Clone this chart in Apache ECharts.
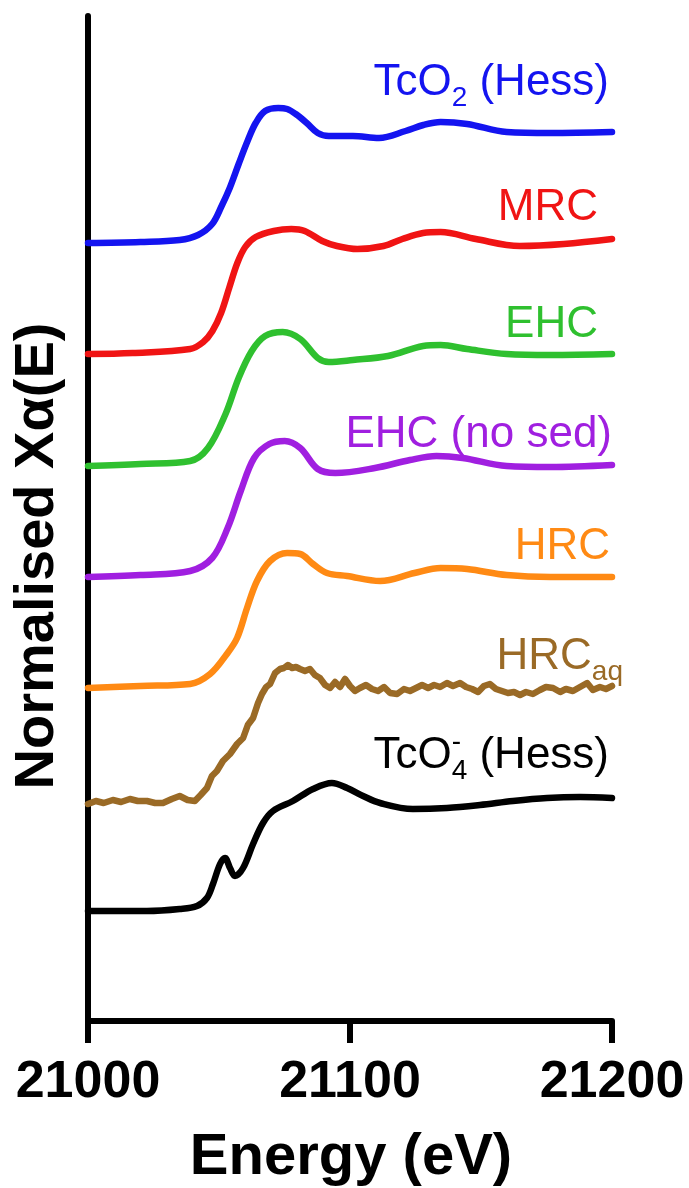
<!DOCTYPE html>
<html>
<head>
<meta charset="utf-8">
<script src="https://cdn.jsdelivr.net/npm/echarts@6/dist/echarts.min.js"></script>
<style>
html,body{margin:0;padding:0;background:#fff;}
#c{width:689px;height:1188px;}
</style>
</head>
<body>
<div id="c"></div>
<script>
// ---- data (energy in eV, normalised absorption with vertical offsets) ----
const xTicks = [21000, 21100, 21200];

const tco2Hess = [
[21000,77.8],[21020,77.9],[21035,78.1],[21042,78.6],[21047.4,79.7],[21051,81.5],[21054.1,83.3],
[21057.5,85.7],[21060.9,88.0],[21064,89.8],[21067.6,91.0],[21072.6,91.3],[21076,91.2],[21079.3,90.7],
[21083.5,89.8],[21087.7,88.8],[21091.9,88.5],[21101.1,88.5],[21111.1,88.3],[21121.2,89.0],[21128,89.6],
[21134.6,89.9],[21144.7,89.7],[21159.8,88.9],[21176.5,88.8],[21200,88.9]];

const mrc = [
[21000,66.7],[21017,66.8],[21039,67.2],[21044,67.9],[21047.5,69.0],[21050.8,70.8],[21054,73.4],
[21057,75.8],[21060,77.4],[21064,78.4],[21070.9,79.0],[21077.6,79.2],[21082.7,79.0],[21089.4,78.0],[21095,77.5],
[21102.8,77.2],[21112.8,77.5],[21120,78.2],[21127.9,78.8],[21134.6,78.9],[21148,78.2],[21164.8,77.5],
[21181.6,77.7],[21200,78.2]];

const ehc = [
[21000,55.5],[21020,55.7],[21039,56.0],[21045.8,57.3],[21052.5,60.7],[21057.5,64.3],[21062.5,67.0],
[21067.6,68.5],[21074.3,68.9],[21081,68.2],[21087.7,66.3],[21091.9,65.9],[21101.1,66.1],[21114.5,66.5],
[21127.9,67.5],[21134.6,67.6],[21144.7,67.2],[21159.8,66.7],[21176.5,66.6],[21200,66.7]];

const ehcNoSed = [
[21000,44.4],[21020,44.6],[21039,45.0],[21047.4,46.3],[21053.3,49.3],[21058.3,53.0],[21063.4,56.3],
[21069.2,57.7],[21075.1,58.0],[21081,57.3],[21087.7,55.2],[21094.4,54.8],[21109.5,55.3],[21122.9,56.1],
[21133,56.5],[21143,56.3],[21159.8,55.5],[21176.5,55.4],[21200,55.6]];

const hrc = [
[21000,33.3],[21020,33.5],[21039,33.7],[21046.6,34.7],[21053,36.7],[21056.9,38.3],[21060.7,41.3],
[21064.5,44.0],[21069.5,46.0],[21076,46.8],[21081,46.7],[21085.9,45.7],[21091.2,44.8],[21098.9,44.5],
[21111.5,44.0],[21124.6,44.8],[21134.6,45.3],[21144.7,45.2],[21159.8,44.6],[21176.5,44.4],[21200,44.4]];

const hrcAq = [
[21000,21.7],[21003,22.0],[21006,21.8],[21009.5,22.1],[21012.6,21.9],[21016,22.2],[21019,22.0],
[21022.5,22.0],[21025.6,21.8],[21028.6,21.8],[21032,22.2],[21035,22.5],[21038,22.1],[21040.8,22.0],
[21043,22.6],[21045.4,23.3],[21047.3,24.5],[21049.2,25.0],[21051.5,26.0],[21054.2,26.7],[21056.9,27.7],
[21059.2,28.3],[21061,29.6],[21063,30.3],[21064.9,31.8],[21066.4,32.7],[21068,33.4],[21069.5,33.7],
[21071.4,34.8],[21073.3,35.2],[21074.8,35.3],[21076.3,35.6],[21077.9,35.3],[21079.4,35.4],[21080.9,35.2],
[21082.8,35.0],[21084.7,35.2],[21086.6,34.6],[21088.5,34.3],[21090.5,33.6],[21092.4,33.3],[21094.3,33.9],
[21096.2,33.4],[21098.1,34.2],[21100,33.5],[21101.9,33.0],[21103.8,33.3],[21106.1,33.6],[21108.4,33.2],
[21110.7,33.0],[21113,33.4],[21115.3,32.8],[21118,32.7],[21120.6,33.2],[21122.9,33.0],[21125.2,33.3],
[21127.5,33.6],[21129.8,33.3],[21132.1,33.6],[21134.4,33.4],[21137,33.8],[21139.3,33.5],[21142,33.8],
[21144.3,33.4],[21146.6,33.2],[21148.9,32.9],[21151.1,33.5],[21153.4,33.7],[21155.7,33.2],[21158,33.0],
[21160.3,32.8],[21162.6,32.9],[21164.9,32.6],[21167.2,32.9],[21169.8,32.7],[21172.5,33.1],[21174.8,33.4],
[21177.5,33.3],[21180.2,32.9],[21182.4,33.2],[21185.1,33.0],[21187.8,33.4],[21190.5,33.8],[21192.7,33.1],
[21195.4,33.4],[21197.7,33.2],[21200,33.5]];

const tco4Hess = [
[21000,11.0],[21022.5,11.0],[21035,11.2],[21041.6,11.5],[21045.4,12.3],[21047.7,13.7],[21050.4,15.7],
[21052.3,16.3],[21054.2,15.3],[21056.1,14.5],[21059.2,15.3],[21063,17.7],[21066.8,19.8],[21070.6,21.0],
[21078.2,22.0],[21085.9,23.2],[21093.1,23.8],[21098.9,23.3],[21105,22.5],[21111.5,21.8],[21124,21.2],
[21137,21.3],[21149.6,21.6],[21162.2,22.0],[21175.2,22.3],[21187.8,22.4],[21200,22.3]];

const seriesNames = ['TcO2 (Hess)','MRC','EHC','EHC (no sed)','HRC','HRCaq','TcO4- (Hess)'];
const colors = ['#1414f0','#f01414','#2fc02f','#a01fe0','#ff8a14','#9a6a26','#000000'];

// ---- chart ----
const FONT = '"Liberation Sans", Arial, Helvetica, sans-serif';
const chart = echarts.init(document.getElementById('c'), null, {renderer:'canvas'});

const mctx = document.createElement('canvas').getContext('2d');
function tw(t, fs, bold){ mctx.font = (bold?'bold ':'') + fs + 'px ' + FONT; return mctx.measureText(t).width; }

// parts: {t, fs, dy, noAdvance}
function rtLabel(parts, right, cy, color){
  let total = 0;
  parts.forEach(p => { if(!p.noAdvance) total += tw(p.t, p.fs); });
  let x = right - total;
  const els = [];
  parts.forEach(p => {
    els.push({type:'text', silent:true, style:{text:p.t, x:x, y:cy + (p.dy||0), fill:color,
      font: p.fs + 'px ' + FONT, textAlign:'left', textVerticalAlign:'middle'}});
    if(!p.noAdvance) x += tw(p.t, p.fs);
  });
  return els;
}
const F = 44, S = 28;
let labels = [];
labels = labels.concat(rtLabel([{t:'TcO',fs:F},{t:'2',fs:S,dy:15},{t:' (Hess)',fs:F}], 609, 83, colors[0]));
labels = labels.concat(rtLabel([{t:'MRC',fs:F}], 598, 208, colors[1]));
labels = labels.concat(rtLabel([{t:'EHC',fs:F}], 598, 325, colors[2]));
labels = labels.concat(rtLabel([{t:'EHC (no sed)',fs:F}], 612, 435, colors[3]));
labels = labels.concat(rtLabel([{t:'HRC',fs:F}], 610, 547, colors[4]));
labels = labels.concat(rtLabel([{t:'HRC',fs:F},{t:'aq',fs:S,dy:15}], 623, 657, colors[5]));
labels = labels.concat(rtLabel([{t:'TcO',fs:F},{t:'-',fs:S,dy:-14,noAdvance:true},{t:'4',fs:S,dy:15},{t:' (Hess)',fs:F}], 609, 756, colors[6]));

labels.push({type:'text', silent:true, rotation:Math.PI/2, x:38, y:556,
  style:{text:'Normalised Xα(E)', x:0, y:0, fill:'#000', font:'bold 56px ' + FONT, textAlign:'center', textVerticalAlign:'middle'}});
labels.push({type:'text', silent:true,
  style:{text:'Energy (eV)', x:351, y:1158, fill:'#000', font:'bold 58px ' + FONT, textAlign:'center', textVerticalAlign:'middle'}});

const datasets = [tco2Hess, mrc, ehc, ehcNoSed, hrc, hrcAq, tco4Hess];
const series = datasets.map((d, i) => ({
  name: seriesNames[i], type:'line', data:d, showSymbol:false, symbol:'none',
  smooth: i === 5 ? false : 0.35,
  lineStyle:{color:colors[i], width:6.5, join:'round', cap:'round'},
  z: 3
}));

chart.setOption({
  animation:false,
  backgroundColor:'#fff',
  grid:{left:88, right:77, top:16, bottom:167, containLabel:false},
  xAxis:{
    type:'value', min:21000, max:21200, interval:100,
    axisLine:{show:true, onZero:false, lineStyle:{color:'#000', width:6}},
    axisTick:{show:true, length:22, lineStyle:{color:'#000', width:6}},
    axisLabel:{show:true, margin:36, fontSize:52, fontWeight:'bold', color:'#000', fontFamily:FONT,
      formatter: v => xTicks.indexOf(v) >= 0 ? String(v) : ''},
    splitLine:{show:false}
  },
  yAxis:{
    type:'value', min:0, max:100.5,
    axisLine:{show:true, onZero:false, lineStyle:{color:'#000', width:6}},
    axisTick:{show:false}, axisLabel:{show:false}, splitLine:{show:false}
  },
  series: series,
  graphic: labels
});
</script>
</body>
</html>
